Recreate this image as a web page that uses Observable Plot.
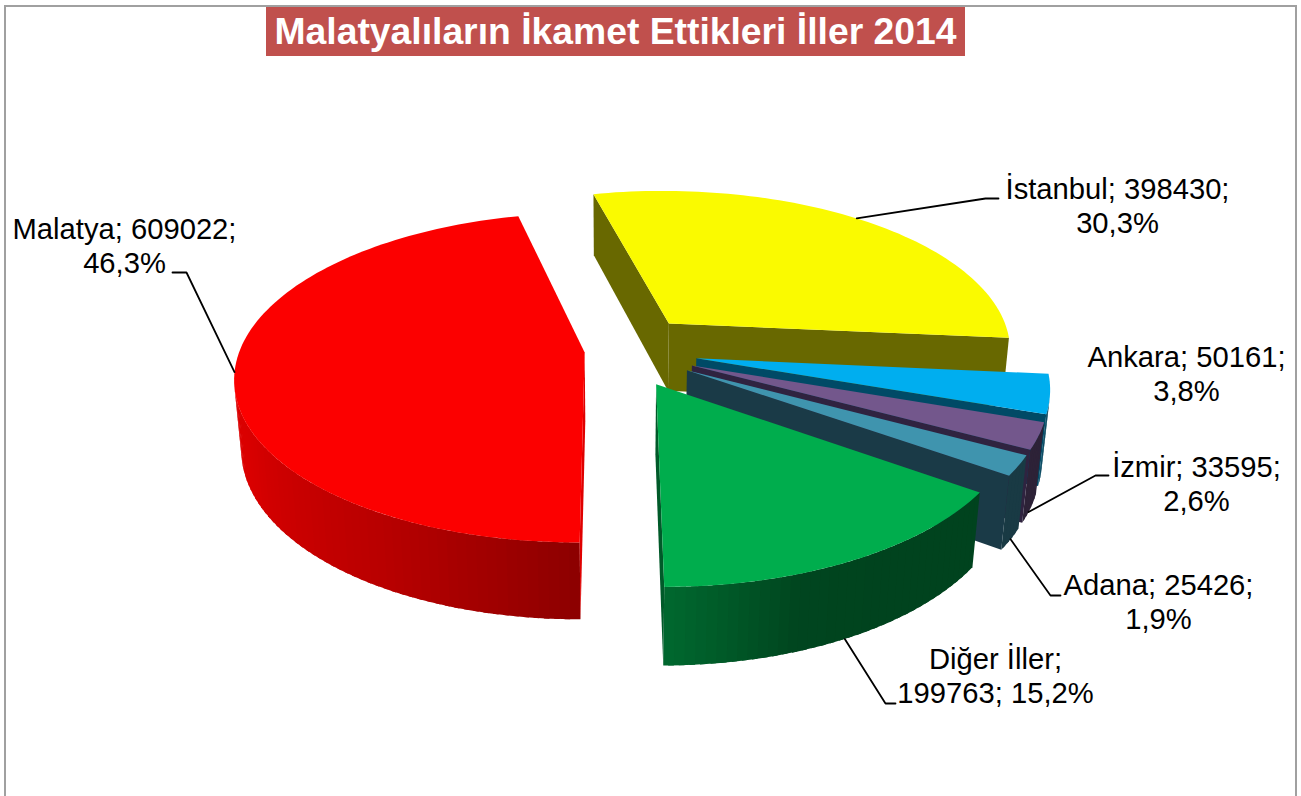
<!DOCTYPE html>
<html lang="tr">
<head>
<meta charset="utf-8">
<script src="https://cdn.jsdelivr.net/npm/d3@7"></script>
<script src="https://cdn.jsdelivr.net/npm/@observablehq/plot@0.6"></script>
<style>
html,body{margin:0;padding:0;background:#fff;overflow:hidden;width:1301px;height:796px}
#frame{position:absolute;left:4px;top:5px;width:1289px;height:820px;border:2px solid #a0a0a0;box-sizing:content-box;pointer-events:none}
#title{position:absolute;left:266px;top:7px;width:699px;height:49px;background:#C0504D;color:#fff;font:bold 37.3px/49px "Liberation Sans",Arial,sans-serif;text-align:center;white-space:nowrap}
#chart{position:absolute;left:0;top:0}
#chart svg{display:block}
</style>
</head>
<body>
<div id="chart"></div>
<div id="frame"></div>
<div id="title">Malatyalıların İkamet Ettikleri İller 2014</div>
<script>
// Data (clockwise slice order)
const categories = ["İstanbul", "Ankara", "İzmir", "Adana", "Diğer İller", "Malatya"];
const values = [398430, 50161, 33595, 25426, 199763, 609022];
// Styles
const topColors = ["#FAFA00", "#00AEEF", "#73578C", "#3F94AE", "#00AD4D", "#FC0000"];
const startWallColors = ["#686800", "#004A66", "#2F2340", "#1A3A47", "#00471F", "#E00000"];
const endWallColors = ["#686800", "#004A66", "#2F2340", "#1A3A47", "#005A29", "#8C0000"];
const rimBaseColors = ["#FAFA00", "#00AEEF", "#73578C", "#3F94AE", "#00AD4D", "#FF0000"];
const drawOrder = [0, 1, 2, 3, 5, 4];
const explodes = [79, 79, 79, 79, 79, 34];
// Label layout
const labelX = [1117, 1186, 1196, 1158, 995, 124];
const labelY = [205, 373, 482.5, 601, 674.5, 245];
const leaderElbows = [[[985,198],[998,198]], null, [[1095,475],[1108,475]], [[1050,595],[1060,595]], [[885,703],[895,703]], [[186,272],[172,272]]];
const leaderAngle = [0.49, null, 0.62, 0.5, 0.51, 0.5];
const leaderAtBottom = [false, null, true, true, true, false];

// Projection parameters of the tilted pie
const cx = 618, cy = 350, R = 345, D = 2000, sinT = 0.465, cosT = 0.885, H = 79, startDeg = -13.6;

function project(X, Y, Z) {
  const p = 1 / (1 - (Y * cosT + Z * sinT) / D);
  return [cx + p * X, cy + p * (Y * sinT - Z * cosT)];
}
const rad = d => d * Math.PI / 180;
const total = d3.sum(values);
let cum = startDeg;
const slices = values.map((v, i) => {
  const a0 = cum, a1 = cum + v / total * 360;
  cum = a1;
  const m = rad((a0 + a1) / 2);
  return {i, a0, a1, ox: explodes[i] * Math.sin(m), oy: -explodes[i] * Math.cos(m)};
});
const rimPt = (s, a, Z) => project(s.ox + R * Math.sin(rad(a)), s.oy - R * Math.cos(rad(a)), Z);
const apexPt = (s, Z) => project(s.ox, s.oy, Z);

const shade = d3.scaleLinear()
  .domain([150, 161, 179, 180, 193, 209, 245, 270])
  .range([0.39, 0.40, 0.60, 0.55, 0.63, 0.72, 0.85, 0.88])
  .clamp(true);
function tint(col, k) {
  const c = d3.rgb(col);
  return d3.rgb(c.r * k, c.g * k, c.b * k).formatHex();
}
function area(pts) {
  let s = 0;
  pts.forEach((p, j) => { const q = pts[(j + 1) % pts.length]; s += p[0] * q[1] - q[0] * p[1]; });
  return s / 2;
}

const polys = [];
let pid = 0;
function addPoly(points, color) {
  const id = pid++;
  [...points, points[0]].forEach(p => polys.push({id, x: p[0], y: p[1], color}));
}
for (const i of drawOrder) {
  const s = slices[i];
  // rim wall as shaded strips (overlapping, front-facing only)
  const n = Math.max(2, Math.ceil((s.a1 - s.a0) / 1.5));
  for (let k = 0; k < n; k++) {
    const a = s.a0 + (s.a1 - s.a0) * k / n, b0 = s.a0 + (s.a1 - s.a0) * (k + 1) / n;
    const b = Math.min(s.a1, b0 + 0.8);
    const q = [rimPt(s, a, 0), rimPt(s, b, 0), rimPt(s, b, -H), rimPt(s, a, -H)];
    if (area(q) < 0) addPoly(q, tint(rimBaseColors[i], shade((a + b0) / 2)));
  }
  // radial walls, front-facing only
  const w0 = [apexPt(s, 0), rimPt(s, s.a0, 0), rimPt(s, s.a0, -H), apexPt(s, -H)];
  if (area(w0) < 0) addPoly(w0, startWallColors[i]);
  const w1 = [apexPt(s, 0), rimPt(s, s.a1, 0), rimPt(s, s.a1, -H), apexPt(s, -H)];
  if (area(w1) > 0) addPoly(w1, endWallColors[i]);
  // top face
  const top = [apexPt(s, 0)];
  const m = Math.ceil((s.a1 - s.a0) / 1.5) + 1;
  for (let k = 0; k <= m; k++) top.push(rimPt(s, s.a0 + (s.a1 - s.a0) * k / m, 0));
  addPoly(top, topColors[i]);
}

const fmtPct = v => (v / total * 100).toFixed(1).replace(".", ",") + "%";
const labels = categories.map((c, i) => ({
  x: labelX[i], y: labelY[i],
  text: c === "Diğer İller"
    ? `${c};\n${values[i]}; ${fmtPct(values[i])}`
    : `${c}; ${values[i]};\n${fmtPct(values[i])}`
}));
const leaders = [];
slices.forEach((s, i) => {
  if (!leaderElbows[i]) return;
  const a = s.a0 + (s.a1 - s.a0) * leaderAngle[i];
  const st = rimPt(s, a, leaderAtBottom[i] ? -H : 0);
  [st, ...leaderElbows[i]].forEach(p => leaders.push({i, x: p[0], y: p[1]}));
});

const chart = Plot.plot({
  width: 1301, height: 796,
  margin: 0,
  x: {domain: [0, 1301], range: [0, 1301], axis: null},
  y: {domain: [0, 796], range: [0, 796], axis: null},
  color: {type: "identity"},
  style: {background: "transparent"},
  marks: [
    Plot.line(polys, {x: "x", y: "y", z: "id", fill: "color", stroke: "none", curve: "linear"}),
    Plot.line(leaders, {x: "x", y: "y", z: "i", stroke: "#000", strokeWidth: 1.8, curve: "linear"}),
    Plot.text(labels, {x: "x", y: "y", text: "text", fill: "#000", fontSize: 29.2, lineHeight: 1.15, fontFamily: "'Liberation Sans', Arial, sans-serif", textAnchor: "middle", lineAnchor: "middle"})
  ]
});
document.getElementById("chart").appendChild(chart);
</script>
</body>
</html>
